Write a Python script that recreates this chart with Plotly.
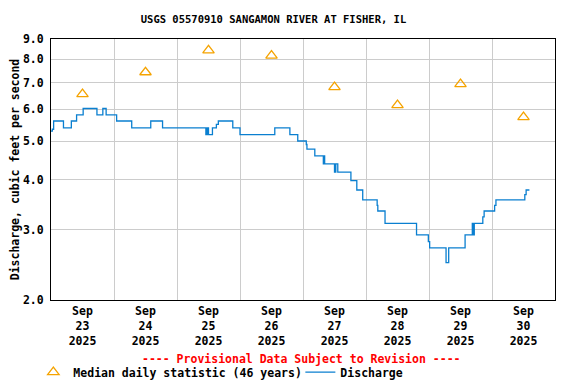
import plotly.graph_objects as go
import pandas as pd

# Median daily statistic (46 years), plotted at noon of each day
median_dates = ["2025-09-23 12:00", "2025-09-24 12:00", "2025-09-25 12:00", "2025-09-26 12:00",
                "2025-09-27 12:00", "2025-09-28 12:00", "2025-09-29 12:00", "2025-09-30 12:00"]
median_values = [6.55, 7.43, 8.43, 8.18, 6.82, 6.15, 6.94, 5.74]

# Discharge (step changes), cubic feet per second
q_times = [
    "2025-09-23 00:00", "2025-09-23 00:30", "2025-09-23 01:00", "2025-09-23 04:45",
    "2025-09-23 07:45", "2025-09-23 09:45", "2025-09-23 12:15", "2025-09-23 17:30",
    "2025-09-23 19:45", "2025-09-23 21:00", "2025-09-24 01:00", "2025-09-24 06:45",
    "2025-09-24 14:00", "2025-09-24 18:30", "2025-09-25 11:00", "2025-09-25 11:30",
    "2025-09-25 12:00", "2025-09-25 13:30", "2025-09-25 15:00", "2025-09-25 15:45",
    "2025-09-25 21:15", "2025-09-26 00:00", "2025-09-26 13:15", "2025-09-26 19:00",
    "2025-09-26 22:00", "2025-09-27 01:15", "2025-09-27 01:30", "2025-09-27 04:30",
    "2025-09-27 07:45", "2025-09-27 08:00", "2025-09-27 08:15", "2025-09-27 12:00",
    "2025-09-27 12:30", "2025-09-27 13:15", "2025-09-27 18:15", "2025-09-27 20:30",
    "2025-09-27 22:45", "2025-09-28 04:15", "2025-09-28 04:30", "2025-09-28 07:15",
    "2025-09-28 19:15", "2025-09-28 23:45", "2025-09-29 00:15", "2025-09-29 06:30",
    "2025-09-29 07:30", "2025-09-29 13:45", "2025-09-29 16:30", "2025-09-29 16:45",
    "2025-09-29 17:15", "2025-09-29 20:30", "2025-09-29 21:00", "2025-09-30 01:00",
    "2025-09-30 01:30", "2025-09-30 12:30", "2025-09-30 13:00", "2025-09-30 14:15",
]
q_values = [
    5.29, 5.35, 5.61, 5.39,
    5.61, 5.81, 6.03, 5.81,
    6.03, 5.81, 5.61, 5.39,
    5.61, 5.39, 5.19, 5.39,
    5.19, 5.39, 5.50, 5.61,
    5.39, 5.19, 5.39, 5.19,
    5.00, 4.90, 4.77, 4.59,
    4.38, 4.59, 4.38, 4.18,
    4.38, 4.18, 3.98, 3.77,
    3.56, 3.45, 3.34, 3.11,
    2.91, 2.80, 2.70, 2.48,
    2.70, 2.91, 3.11, 2.91,
    3.11, 3.23, 3.34, 3.45,
    3.56, 3.67, 3.77, 3.77,
]

y_ticks = [2, 3, 4, 5, 6, 7, 8, 9]
y_ticktext = ["2.0", "3.0", "4.0", "5.0", "6.0", "7.0", "8.0", "9.0"]

day_noons = pd.date_range("2025-09-23 12:00", periods=8, freq="D")
day_labels = [f"{d:%b}<br>{d.day}<br>{d:%Y}" for d in day_noons]
midnights = pd.date_range("2025-09-24", periods=7, freq="D")

FONT = "DejaVu Sans Mono"
FS = 11.5
BLUE = "#0a7fd0"
ORANGE = "#f5a300"

# page has an 8px body margin at top/left
W, H = 560, 376

fig = go.Figure()
fig.add_trace(go.Scatter(
    x=median_dates, y=median_values, mode="markers",
    name="<b>Median daily statistic (46 years)</b>",
    marker=dict(symbol="triangle-up-open", size=10, color=ORANGE, line=dict(width=1.3, color=ORANGE)),
))
fig.add_trace(go.Scatter(
    x=q_times, y=q_values, mode="lines", line_shape="hv",
    name="<b>Discharge</b>", line=dict(color=BLUE, width=1.3),
))

fig.update_layout(
    width=W, height=H,
    margin=dict(l=43, r=13, t=31, b=84, autoexpand=False),
    paper_bgcolor="white", plot_bgcolor="white",
    font=dict(family=FONT, size=FS, color="black"),
    title=dict(text="<b>USGS 05570910 SANGAMON RIVER AT FISHER, IL</b>",
               x=265.5 / W, xanchor="center", y=1 - 11 / H, yanchor="middle",
               font=dict(family=FONT, size=10.5, color="black")),
    showlegend=True,
    legend=dict(orientation="h", x=-0.035, xanchor="left", y=-0.276, yanchor="middle",
                font=dict(family=FONT, size=FS, color="black"), itemwidth=30,
                entrywidth=222, entrywidthmode="pixels",
                bgcolor="rgba(0,0,0,0)"),
    annotations=[dict(text="<b>---- Provisional Data Subject to Revision ----</b>",
                      xref="paper", yref="paper", x=0.497, y=-0.225, xanchor="center", yanchor="middle",
                      showarrow=False, font=dict(family=FONT, size=FS, color="red"))],
)

fig.update_xaxes(
    type="date", range=["2025-09-23", "2025-10-01"],
    tickvals=list(day_noons), ticktext=[f"<b>{t}</b>" for t in day_labels],
    ticks="", showgrid=False, tickangle=0, automargin=False,
    showline=True, linecolor="black", linewidth=1, mirror=True,
    tickfont=dict(family=FONT, size=FS, color="black"),
    minor=dict(tickvals=list(midnights), showgrid=True, gridcolor="#cccccc", gridwidth=1, ticks=""),
    zeroline=False,
)
fig.update_yaxes(
    type="log", range=[0.30103, 0.954243], automargin=False,
    tickvals=y_ticks, ticktext=[f"<b>{t}</b>" for t in y_ticktext],
    showgrid=True, gridcolor="#cccccc", gridwidth=1, ticks="",
    showline=True, linecolor="black", linewidth=1, mirror=True,
    tickfont=dict(family=FONT, size=FS, color="black"),
    ticklabelstandoff=4,
    title=dict(text="<b>Discharge, cubic feet per second</b>", standoff=6,
               font=dict(family=FONT, size=FS, color="black")),
    zeroline=False,
)

fig.write_html("out.html")
